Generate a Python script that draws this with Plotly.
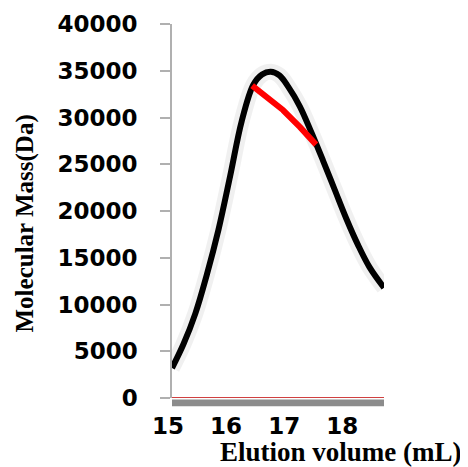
import plotly.graph_objects as go

# Data
elution_ml = [15.0, 15.2, 15.4, 15.6, 15.8, 16.0, 16.2, 16.4, 16.55, 16.7,
              16.85, 17.0, 17.2, 17.4, 17.6, 17.8, 18.0, 18.2, 18.4, 18.65]
mass_da = [3200, 5800, 9000, 13200, 18000, 23700, 29600, 33500, 34600, 34900,
           34500, 33300, 31200, 28400, 25400, 22300, 19200, 16400, 14000, 11800]

fit_x = [16.38, 16.65, 16.91, 17.20, 17.48]
fit_y = [33400, 32100, 30800, 29000, 27100]

base_x = [15.0, 18.65]
base_y = [0, 0]

y_ticks = [0, 5000, 10000, 15000, 20000, 25000, 30000, 35000, 40000]
x_ticks = [15, 16, 17, 18]

fig = go.Figure()

fig.add_trace(go.Scatter(x=elution_ml, y=mass_da, mode="lines",
                         line=dict(color="rgba(0,0,0,0.06)", width=16, shape="spline"),
                         hoverinfo="skip", showlegend=False))
fig.add_trace(go.Scatter(x=elution_ml, y=mass_da, mode="lines",
                         line=dict(color="black", width=6, shape="spline"), showlegend=False))
fig.add_trace(go.Scatter(x=fit_x, y=fit_y, mode="lines",
                         line=dict(color="#ff0000", width=6), showlegend=False))
fig.add_trace(go.Scatter(x=base_x, y=base_y, mode="lines",
                         line=dict(color="#d04040", width=2), showlegend=False, cliponaxis=False))

fig.add_shape(type="rect", xref="paper", yref="paper", x0=0, x1=1, y0=-0.022, y1=-0.004,
              fillcolor="#8c8c8c", line=dict(width=0), layer="above")

fig.update_layout(
    width=460, height=459,
    margin=dict(l=164, r=84, t=16, b=69),
    plot_bgcolor="white", paper_bgcolor="white",
    showlegend=False,
    xaxis=dict(range=[15.0, 18.65], tickvals=x_ticks, ticktext=[str(v) for v in x_ticks],
               showgrid=False, zeroline=False, showline=False, ticks="", automargin=False,
               tickfont=dict(family="DejaVu Sans", size=23, color="black", weight="bold"),
               ticklabelstandoff=12, ticklabelshift=-4),
    yaxis=dict(range=[0, 40000], tickvals=y_ticks, ticktext=[str(v) for v in y_ticks],
               showgrid=False, zeroline=False, showline=True, linecolor="#b0b0b0", linewidth=1.5,
               ticks="outside", ticklen=10, tickcolor="#b0b0b0", tickwidth=1.5, automargin=False,
               tickfont=dict(family="DejaVu Sans", size=23, color="black", weight="bold"),
               ticklabelstandoff=18),
    annotations=[
        dict(text="Elution volume (mL)", xref="paper", yref="paper", x=(341 - 172) / 212, y=-(452 - 398) / 374,
             xanchor="center", yanchor="middle", showarrow=False,
             font=dict(family="Liberation Serif", size=27, color="black", weight="bold")),
        dict(text="Molecular Mass(Da)", xref="paper", yref="paper", x=-(172 - 24.5) / 212, y=(398 - 224) / 374,
             xanchor="center", yanchor="middle", showarrow=False, textangle=-90,
             font=dict(family="Liberation Serif", size=25, color="black", weight="bold")),
    ],
)

fig.write_html("out.html")
